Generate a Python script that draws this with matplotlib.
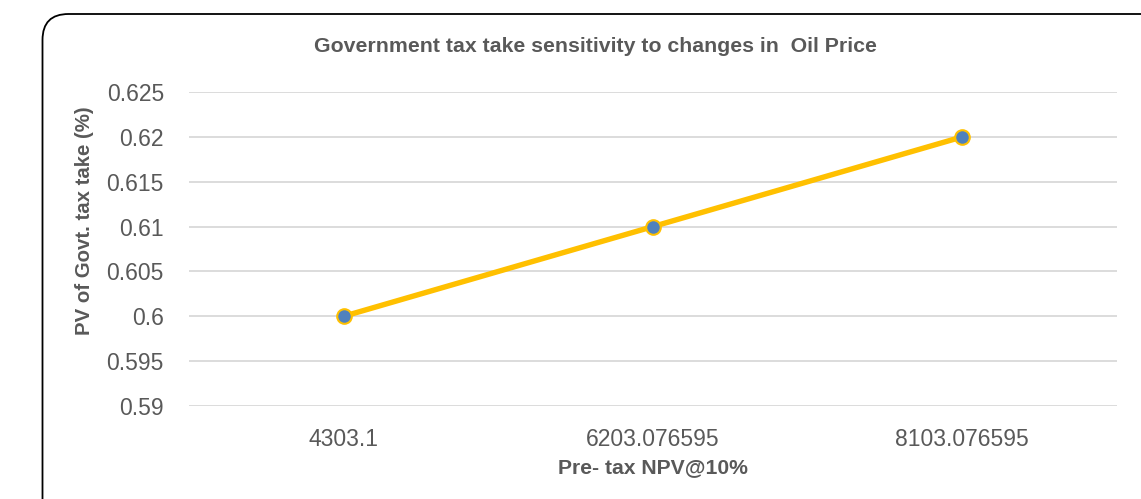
import matplotlib
matplotlib.use("Agg")
import matplotlib.pyplot as plt
from matplotlib.patches import FancyBboxPatch
from matplotlib.transforms import IdentityTransform

categories = ["4303.1", "6203.076595", "8103.076595"]
values = [0.60, 0.61, 0.62]
yticks = [0.59, 0.595, 0.60, 0.605, 0.61, 0.615, 0.62, 0.625]
ytick_labels = ["0.59", "0.595", "0.6", "0.605", "0.61", "0.615", "0.62", "0.625"]

plt.rcParams['font.family'] = ['Liberation Sans', 'DejaVu Sans']
W, H = 1141, 499
fig = plt.figure(figsize=(W/100, H/100), dpi=100)

# rounded border (pixel coordinates, origin bottom-left)
border = FancyBboxPatch((42.5, -60), W + 100, H - 14 + 60,
                        boxstyle="round,pad=0,rounding_size=26",
                        transform=IdentityTransform(), fill=False,
                        edgecolor="black", linewidth=1.3)
fig.patches.append(border)

ax = fig.add_axes([189/W, 1 - 406/H, (1117 - 189)/W, (406 - 92)/H])
x = list(range(len(categories)))
ax.plot(x, values, color="#FFC000", linewidth=3.9, marker="o", markersize=10.5,
        markerfacecolor="#4F81BD", markeredgecolor="#FFC000", markeredgewidth=1.5,
        solid_capstyle="round", zorder=3)
ax.set_xlim(-0.5, len(categories) - 0.5)
ax.set_ylim(0.59, 0.625)
ax.set_xticks(x)
ax.set_xticklabels(categories)
ax.set_yticks(yticks)
ax.set_yticklabels(ytick_labels)
ax.tick_params(axis="both", length=0, labelsize=16.5, labelcolor="#595959")
ax.tick_params(axis="y", pad=18)
ax.tick_params(axis="x", pad=16)
ax.grid(axis="y", color="#D9D9D9", linewidth=1.3)
ax.set_axisbelow(True)
for s in ax.spines.values():
    s.set_visible(False)

fig.text(653/W, 1 - 468/H, "Pre- tax NPV@10%", ha="center", va="center",
         fontsize=15.2, fontweight="bold", color="#595959")
fig.text(84/W, 1 - 221/H, "PV of Govt. tax take (%)", ha="center", va="center",
         rotation=90, fontsize=14.7, fontweight="bold", color="#595959")
fig.text(595/W, 1 - 47/H, "Government tax take sensitivity to changes in  Oil Price",
         ha="center", va="center", fontsize=15.3, fontweight="bold", color="#595959")

fig.savefig("out.png", dpi=100)
